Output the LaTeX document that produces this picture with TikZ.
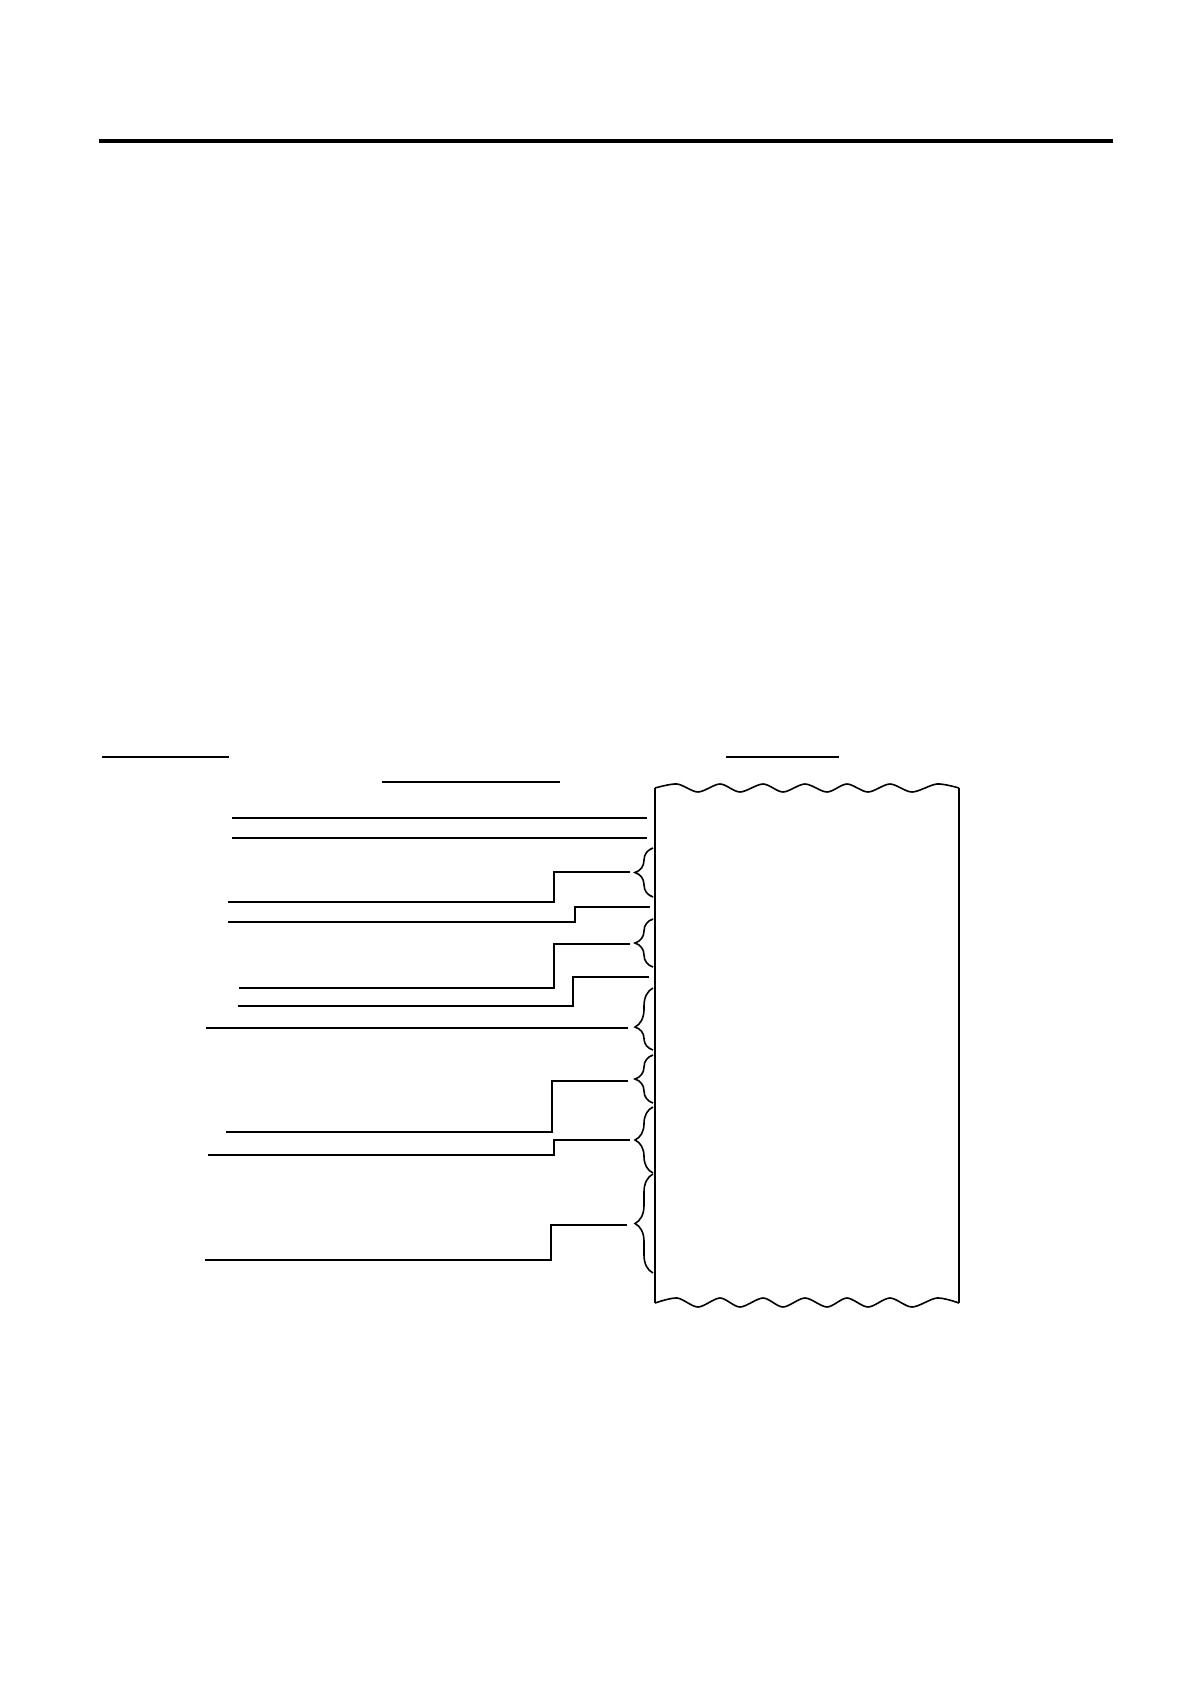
\documentclass[tikz,border=0pt]{standalone}
\usetikzlibrary{decorations.pathreplacing}

\tikzset{
  wire/.style={line width=0.8pt},
  curly/.style={decorate, decoration={brace, amplitude=9pt}, line width=0.8pt},
  curlylow/.style={decorate, decoration={brace, amplitude=9pt, aspect=0.37}, line width=0.8pt}
}

\begin{document}
\begin{tikzpicture}[x=0.5pt,y=-0.5pt]

\useasboundingbox (0,0) rectangle (1190,1684);

% header rule
\draw[line width=2pt] (99,141) -- (1113,141);

% short rules above the strip
\draw[wire] (102,757) -- (229,757);
\draw[wire] (726,757) -- (839,757);
\draw[wire] (382,782) -- (560,782);

% paper strip, torn top and bottom
\draw[wire] plot[smooth] coordinates {(655,788) (677,784) (698,792) (720,784) (740,792) (763,784) (783,792) (805,784) (827,792) (847,784) (868,792) (890,784) (912,792) (937,784) (959,788)};
\draw[wire] plot[smooth] coordinates {(655,1303) (677,1298) (698,1307) (720,1298) (740,1307) (763,1298) (783,1307) (805,1298) (827,1307) (847,1298) (868,1307) (890,1298) (912,1307) (937,1298) (959,1303)};
\draw[line width=1.2pt] (655,788) -- (655,1303);
\draw[wire] (959,788) -- (959,1303);

% braces along the strip
\coordinate (b1) at (630,872);
\coordinate (b2) at (630,944);
\coordinate (b3) at (628,1028);
\coordinate (b4) at (628,1081);
\coordinate (b5) at (630,1140);
\coordinate (b6) at (627,1225);

\draw[curly] (653,897) -- (653,848);
\draw[curly] (653,967) -- (653,919);
\draw[curlylow] (653,1050) -- (653,988);
\draw[curly] (653,1103) -- (653,1055);
\draw[curly] (653,1173) -- (653,1107);
\draw[curly] (653,1273) -- (653,1174);

% leader lines
\draw[wire] (232,818) -- (647,818);
\draw[wire] (232,838) -- (647,838);
\draw[wire] (228,902) -- (554,902) -- (554,872) -- (b1);
\draw[wire] (228,922) -- (575,922) -- (575,907) -- (650,907);
\draw[wire] (239,988) -- (554,988) -- (554,944) -- (b2);
\draw[wire] (238,1006) -- (573,1006) -- (573,977) -- (649,977);
\draw[wire] (206,1028) -- (b3);
\draw[wire] (226,1132) -- (552,1132) -- (552,1081) -- (b4);
\draw[wire] (208,1155) -- (554,1155) -- (554,1140) -- (b5);
\draw[wire] (205,1260) -- (551,1260) -- (551,1225) -- (b6);

\end{tikzpicture}
\end{document}
